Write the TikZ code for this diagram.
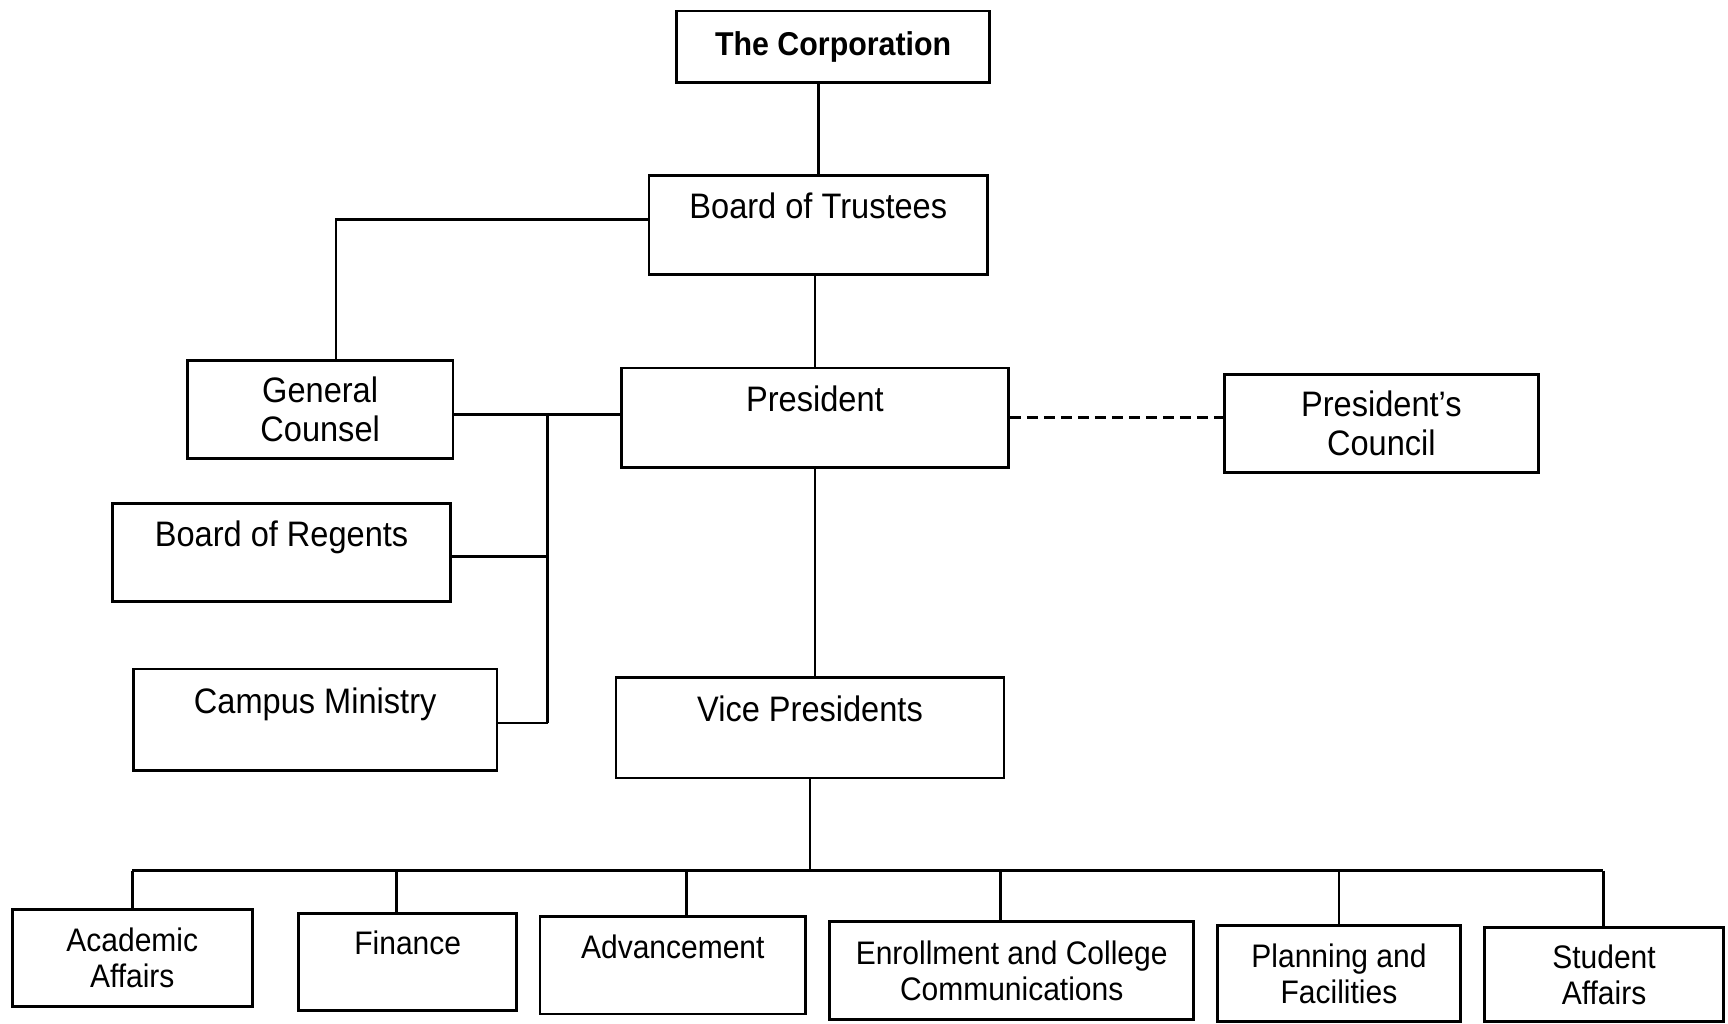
\documentclass[tikz,border=0pt]{standalone}
\usepackage{fontspec}
\setmainfont{Liberation Sans}[FakeStretch=0.92]
\begin{document}
\begin{tikzpicture}[x=0.551pt,y=-0.551pt,
  box/.style={draw,line width=1.4pt,rectangle,inner sep=0pt,align=center,
    font=\fontsize{17.7}{19.5}\selectfont},
  low/.style={box,font=\fontsize{16.3}{18}\selectfont},
  oneline/.style={text depth=19pt},
  conn/.style={line width=1.3pt}]
\useasboundingbox (0,0) rectangle (1568,929);
% nodes
\node[box,font=\bfseries\fontsize{16.5}{19}\selectfont,minimum width=156.5pt,minimum height=35.8pt] (corp) at (756,42.5) {The Corporation};
\node[box,oneline,minimum width=169.2pt,minimum height=49.6pt] (bot) at (742.5,204) {Board of Trustees};
\node[box,minimum width=132.8pt,minimum height=49pt] (gc) at (290.5,371.5) {General\\Counsel};
\node[box,oneline,minimum width=193.4pt,minimum height=49.6pt] (pres) at (739.5,379) {President};
\node[box,minimum width=157pt,minimum height=49pt] (pc) at (1253.5,384.5) {President’s\\Council};
\node[box,oneline,minimum width=169.2pt,minimum height=49pt] (bor) at (255.5,501.5) {Board of Regents};
\node[box,oneline,minimum width=181.8pt,minimum height=50.7pt] (cm) at (286,653) {Campus Ministry};
\node[box,oneline,minimum width=194pt,minimum height=50.1pt] (vp) at (735,660.5) {Vice Presidents};
\node[low,minimum width=120.1pt,minimum height=48.5pt] (aa) at (120,869) {Academic\\Affairs};
\node[low,oneline,minimum width=109.1pt,minimum height=48.5pt] (fin) at (370,873) {Finance};
\node[low,oneline,minimum width=132.8pt,minimum height=48.5pt] (adv) at (610.5,876) {Advancement};
\node[low,minimum width=181.8pt,minimum height=49pt] (enr) at (918,880.5) {Enrollment and College\\Communications};
\node[low,minimum width=121.2pt,minimum height=48pt] (pf) at (1215,883.5) {Planning and\\Facilities};
\node[low,minimum width=119.6pt,minimum height=47pt] (sa) at (1455.5,884.5) {Student\\Affairs};
% helper coordinates
\coordinate (jt) at (305,199);
\coordinate (j1) at (497,376);
\coordinate (jb) at (497,505);
\coordinate (jc) at (497,656);
\coordinate (bus) at (734,790);
\coordinate (daa) at (120,790);
\coordinate (dfin) at (360,790);
\coordinate (dadv) at (623,790);
\coordinate (denr) at (908,790);
\coordinate (dpf) at (1215,790);
\coordinate (dsa) at (1455,790);
% connectors
\draw[conn] (bot.north) -- (bot.north |- corp.south);
\draw[conn] (pres.north) -- (pres.north |- bot.south);
\draw[conn] (jt -| bot.west) -- (jt) -- (jt |- gc.north);
\draw[conn] (gc.east |- j1) -- (j1 -| pres.west);
\draw[conn] (j1) -- (jc);
\draw[conn] (bor.east |- jb) -- (jb);
\draw[conn] (cm.east |- jc) -- (jc);
\draw[conn,dash pattern=on 5.5pt off 3pt] (pres.east) -- (pres.east -| pc.west);
\draw[conn] (pres.south) -- (pres.south |- vp.north);
\draw[conn] (vp.south) -- (vp.south |- bus);
\draw[conn] (daa) -- (dsa);
\draw[conn] (daa) -- (daa |- aa.north);
\draw[conn] (dfin) -- (dfin |- fin.north);
\draw[conn] (dadv) -- (dadv |- adv.north);
\draw[conn] (denr) -- (denr |- enr.north);
\draw[conn] (dpf) -- (dpf |- pf.north);
\draw[conn] (dsa) -- (dsa |- sa.north);
\end{tikzpicture}
\end{document}
